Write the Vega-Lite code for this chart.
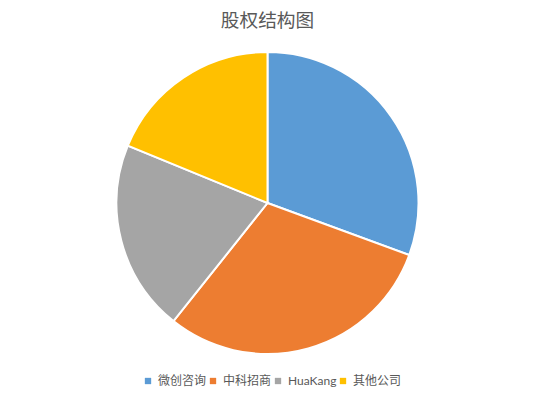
{
  "$schema": "https://vega.github.io/schema/vega-lite/v6.json",
  "width": 535,
  "height": 300,
  "autosize": "none",
  "padding": {"top": 53, "bottom": 48, "left": 0, "right": 0},
  "background": "white",
  "title": {
    "text": "股权结构图",
    "font": "Noto Sans CJK SC",
    "fontSize": 18.67,
    "fontWeight": "normal",
    "color": "#595959",
    "offset": 17
  },
  "data": {
    "values": [
      {"name": "微创咨询", "order": 1, "share": 30.6},
      {"name": "中科招商", "order": 2, "share": 30.1},
      {"name": "HuaKang", "order": 3, "share": 20.5},
      {"name": "其他公司", "order": 4, "share": 18.8}
    ]
  },
  "mark": {"type": "arc", "outerRadius": 151, "stroke": "white", "strokeWidth": 2},
  "encoding": {
    "theta": {"field": "share", "type": "quantitative", "stack": true},
    "order": {"field": "order", "type": "quantitative"},
    "color": {
      "field": "name",
      "type": "nominal",
      "sort": ["微创咨询", "中科招商", "HuaKang", "其他公司"],
      "scale": {
        "domain": ["微创咨询", "中科招商", "HuaKang", "其他公司"],
        "range": ["#5B9BD5", "#ED7D31", "#A5A5A5", "#FFC000"]
      },
      "legend": {
        "title": null,
        "orient": "none",
        "legendX": 142,
        "legendY": 322,
        "direction": "horizontal",
        "symbolType": "square",
        "symbolSize": 40,
        "symbolStrokeWidth": 0,
        "labelFont": "Lato, Noto Sans CJK SC",
        "labelFontSize": 12,
        "labelColor": "#595959",
        "labelOffset": 4,
        "columnPadding": -5
      }
    }
  },
  "config": {"view": {"stroke": null}}
}
